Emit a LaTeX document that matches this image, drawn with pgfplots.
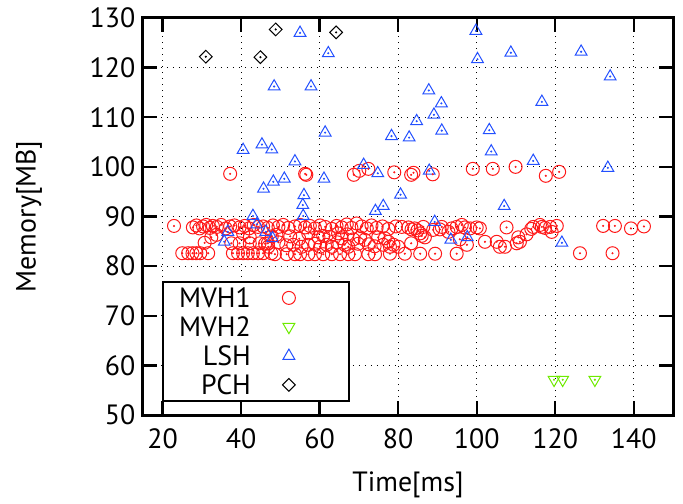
\documentclass[border=0pt]{standalone}
\usepackage{fontspec}
\setmainfont{PT Sans}
\usepackage{pgfplots}
\usepackage{pgfplotstable}
\pgfplotsset{compat=1.18}

\definecolor{mvhred}{RGB}{255,25,25}
\definecolor{mvhgreen}{RGB}{110,235,0}
\definecolor{lshblue}{RGB}{35,80,255}

% MVH1 memory vs time
\pgfplotstableread{
x y
37.2 98.6
56.3 98.6
56.6 98.4
68.7 98.4
70.1 99.2
72.4 99.6
79.0 98.9
83.3 98.4
83.9 98.8
88.8 98.5
99.0 99.6
104.1 99.6
109.9 100.0
117.6 98.2
121.0 99.0
22.9 88.1
27.7 87.8
28.6 88.2
29.4 87.6
30.3 88.0
31.1 88.3
32.0 87.7
32.8 88.1
33.8 87.9
34.9 88.3
36.1 87.6
37.2 88.0
38.3 88.2
39.6 87.8
40.9 88.1
42.0 87.6
43.2 88.3
44.3 87.9
45.6 88.0
46.8 87.7
48.1 88.2
49.5 87.9
50.7 88.3
52.0 87.7
53.7 88.0
55.0 88.3
56.3 87.8
57.5 88.1
58.8 87.6
60.1 88.2
61.4 87.9
63.1 87.5
64.3 88.1
65.6 87.8
66.9 88.4
68.1 87.7
69.4 88.6
70.7 88.0
72.0 87.6
73.2 88.2
74.5 87.7
76.0 88.0
77.5 87.5
79.4 88.0
80.9 87.9
82.6 87.8
83.4 87.4
84.2 87.6
84.9 87.2
86.4 87.9
88.9 87.3
90.6 87.4
91.1 87.9
92.8 86.9
93.6 87.6
94.9 87.9
96.2 88.3
97.0 87.8
98.3 87.6
100.0 87.8
100.8 87.6
107.6 87.8
113.9 87.5
114.4 87.9
116.1 88.3
116.6 87.9
117.4 87.7
118.7 87.9
120.4 88.1
132.2 88.1
135.2 88.1
139.3 87.6
142.6 88.0
32.4 85.8
33.7 86.3
40.5 86.6
42.2 85.8
47.8 86.0
49.0 86.3
52.5 86.0
54.8 85.5
57.1 86.6
59.7 85.8
60.9 86.1
62.5 85.9
64.7 86.6
65.6 85.6
67.0 86.4
68.6 85.4
70.3 85.8
71.5 85.3
74.9 85.8
76.6 85.6
85.6 86.6
86.0 86.1
86.8 85.8
95.7 85.4
110.6 85.8
112.7 86.4
119.1 86.9
30.7 84.7
37.5 84.6
39.6 84.6
42.2 84.6
44.7 84.6
46.8 84.6
46.1 84.5
46.9 83.9
49.5 84.8
51.5 84.2
53.3 84.3
55.4 83.9
57.1 84.3
58.8 84.5
60.1 83.9
61.8 84.3
63.1 83.9
64.5 84.8
66.4 84.3
67.3 83.9
69.8 84.5
72.5 84.4
74.0 84.0
76.2 84.3
77.5 84.9
78.8 84.3
80.0 83.9
77.9 83.9
83.3 84.6
97.5 84.3
102.1 84.9
105.1 84.9
105.9 83.9
107.2 83.9
110.2 84.6
111.0 84.9
25.0 82.6
26.5 82.6
27.6 82.6
28.6 82.6
29.6 82.6
31.6 82.6
37.9 82.6
39.2 82.6
40.5 82.6
41.7 82.6
43.0 82.6
44.3 82.6
45.6 82.6
47.7 82.6
48.6 82.4
51.6 82.4
53.7 82.4
55.0 82.4
57.1 82.4
58.8 82.4
60.9 82.4
63.1 82.4
65.2 82.4
67.3 82.4
69.0 82.4
72.4 82.4
74.1 82.4
77.9 82.5
81.7 82.5
85.6 82.5
89.4 82.5
94.9 82.5
126.3 82.6
134.6 82.6
}\mvhone

\pgfplotstableread{
x y
119.7 57.1
121.9 57.1
130.1 57.1
}\mvhtwo

\pgfplotstableread{
x y
55.0 127.0
62.2 122.9
48.4 116.2
57.8 116.2
61.4 106.9
40.5 103.4
45.3 104.5
47.8 103.5
53.7 101.1
78.3 106.2
71.2 100.4
74.8 98.7
61.1 97.6
48.2 97.0
51.0 97.6
45.7 95.6
56.0 94.3
80.6 94.4
99.8 127.4
108.7 123.0
126.6 123.2
100.2 121.7
134.0 118.2
87.8 115.4
116.6 113.1
91.0 112.8
89.1 110.5
84.7 109.2
82.8 105.9
91.1 107.3
103.2 107.4
103.7 103.1
114.4 101.2
87.9 99.2
133.4 99.8
76.2 92.1
74.2 91.1
107.0 92.1
89.3 88.9
93.4 85.3
97.6 85.8
121.7 84.7
55.7 92.3
55.8 90.1
43.0 90.1
44.0 88.4
36.6 86.9
35.7 84.9
46.3 86.9
48.0 85.6
}\lsh

\pgfplotstableread{
x y
31.0 122.2
48.8 127.7
44.9 122.1
64.2 127.1
}\pch

\begin{document}
\fontsize{14}{16}\selectfont
\begin{tikzpicture}
\begin{axis}[
    name=ax,
    scale only axis,
    width=265bp,
    height=198.5bp,
    xmin=15, xmax=150,
    ymin=50, ymax=130,
    xtick={20,40,...,140},
    ytick={50,60,...,130},
    xlabel={Time[ms]},
    ylabel={Memory[MB]},
    xlabel style={at={(axis description cs:0.5,-0.176)}, anchor=center},
    ylabel style={at={(axis description cs:-0.215,0.5)}, anchor=center},
    /pgf/number format/assume math mode=true,
    tick align=inside,
    major tick length=7bp,
    every tick/.style={black, line width=1.2bp},
    axis line style={line width=1.5bp},
    grid=major,
    major grid style={black, line width=0.6bp, dash pattern=on 0.7bp off 2.3bp},
    yticklabel style={xshift=1bp},
    xticklabel style={yshift=-2bp},
    legend plot pos=right,
    legend cell align=right,
    legend image code/.code={\draw[draw=none, mark=none] (0bp,-3bp) rectangle (41bp,3bp); \draw plot coordinates {(17bp,0bp)};},
    legend style={at={(rel axis cs:0.036,0.033)}, anchor=south west,
        draw=black, line width=1bp, fill=white, inner xsep=6bp, inner ysep=0.9bp,
        row sep=0.3bp, nodes={inner ysep=0bp, text height=12bp, text depth=2.2bp}},
    clip=false,
]
\addplot[only marks, mark=o, mark size=3.25bp, color=mvhred,
    mark options={line width=0.5bp}] table {\mvhone};
\addlegendentry{MVH1}
\addplot[only marks, mark=triangle, mark size=3.4bp, color=mvhgreen,
    mark options={rotate=180, line width=0.5bp}] table {\mvhtwo};
\addlegendentry{MVH2}
\addplot[only marks, mark=triangle, mark size=3.4bp, color=lshblue,
    mark options={line width=0.5bp}] table {\lsh};
\addlegendentry{LSH}
\addplot[only marks, mark=square, mark size=2.25bp, color=black,
    mark options={rotate=45, line width=0.5bp}] table {\pch};
\addlegendentry{PCH}

% the little centre dots of the gnuplot marks
\addplot[forget plot, only marks, mark=*, mark size=0.3bp, color=mvhred] table {\mvhone};
\addplot[forget plot, only marks, mark=*, mark size=0.3bp, color=mvhgreen] table {\mvhtwo};
\addplot[forget plot, only marks, mark=*, mark size=0.3bp, color=lshblue] table {\lsh};
\addplot[forget plot, only marks, mark=*, mark size=0.3bp, color=black] table {\pch};
\end{axis}
\pgfresetboundingbox
\path ([shift={(-71.5bp,-44.5bp)}]ax.south west) rectangle ([shift={(5bp,9bp)}]ax.north east);
\end{tikzpicture}
\end{document}
